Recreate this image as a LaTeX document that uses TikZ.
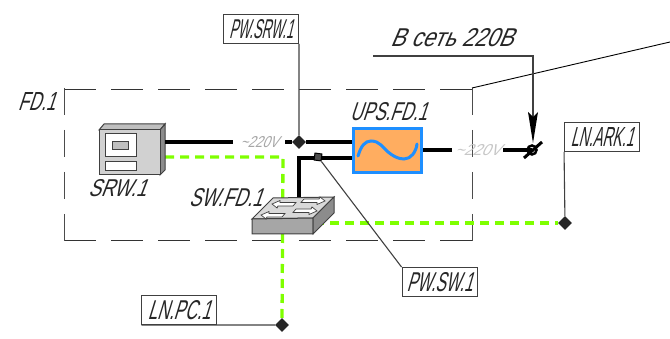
\documentclass[tikz,border=0pt]{standalone}
\usepackage{fontspec}
\setmainfont{Liberation Sans}[FakeStretch=0.6,FakeSlant=0.3]
\usepackage{xcolor}
\usepackage{graphicx}
\usetikzlibrary{calc}
\usetikzlibrary{arrows.meta,positioning,shapes.geometric}
\definecolor{lanGreen}{HTML}{7FFF00}
\definecolor{upsFill}{HTML}{FFAD60}
\definecolor{upsBlue}{HTML}{1E8FFF}
\newcommand{\fitlabel}[3]{\resizebox{#1pt}{#2pt}{#3}}
\tikzset{
  tagbox/.style={draw=black!75,line width=0.9pt,fill=white,inner sep=0pt,minimum width=75pt,minimum height=29pt,text=black!85},
  devlabel/.style={inner sep=0pt,text=black!85},
  joint/.style={diamond,fill=black!85,inner sep=0pt,minimum size=14pt},
  leader/.style={draw=black!75,line width=1.1pt},
  powerline/.style={line width=3.5pt,black},
  lanline/.style={line width=3.3pt,lanGreen,dash pattern=on 9pt off 6pt},
  volt/.style={inner sep=0pt,text=black!35,minimum height=13pt},
  cabhoriz/.style={black!80,line width=0.9pt,dash pattern=on 32pt off 15pt},
  cabvert/.style={black!70,line width=1pt,dash pattern=on 27pt off 15pt},
  swarrow/.style={draw=black!75,line width=0.7pt,fill=white}
}
\begin{document}
\begin{tikzpicture}[x=1pt,y=-1pt]
\useasboundingbox (0,0) rectangle (670,339);

% Cabinet outline
\draw[cabhoriz] (64,89) -- (472,89);
\draw[cabhoriz] (64,240) -- (472,240);
\draw[cabvert] (64,88) -- (64,241);
\draw[cabvert] (472,88) -- (472,241);
\node[devlabel] (fd) at (36.5,102) {\fitlabel{37}{18}{FD.1}};
\coordinate (cabcorner) at (472,88);
\coordinate (farend) at (670,42);
\draw[black,line width=0.9pt] (cabcorner) -- (farend);

% Joints and free ends
\node[joint] (jsrw) at (299,142) {};
\node[joint] (jark) at (565,223) {};
\node[joint] (jpc) at (282,325) {};
\coordinate (srwpower) at (165,142);
\coordinate (srwlan) at (165,157);
\coordinate (swlan) at (283,157);
\coordinate (swright) at (315,223);
\coordinate (swtop) at (299,198);
\coordinate (swbend) at (299,158);
\coordinate (plug) at (532,150);

% Green links
\draw[lanline] (srwlan) -- (swlan) -- (jpc);
\draw[lanline] (swright) -- (jark);

% Device SRW.1
\draw[black!75,line width=1pt,fill=black!25] (99,130) -- (104,124) -- (165,124) -- (160,130) -- cycle;
\draw[black!75,line width=1pt,fill=black!45] (160,130) -- (165,124) -- (165,170) -- (160,175) -- cycle;
\node[draw=black!75,line width=1pt,fill=black!18,minimum width=61pt,minimum height=45pt,inner sep=0pt] (srw) at (129.5,152.5) {};
\draw[black!75,line width=1pt,fill=white] (105,134) rectangle (136,157);
\draw[black!75,line width=1pt,fill=black!25] (112,142) rectangle (128,150);
\draw[black!75,line width=1pt,fill=white] (105,162) rectangle (136,171);
\node[devlabel] (srwname) at (117,188.5) {\fitlabel{58}{17}{SRW.1}};

% Device UPS.FD.1
\node[draw=upsBlue,fill=upsFill,line width=3pt,minimum width=68pt,minimum height=44pt,inner sep=0pt] (ups) at (387.5,150.5) {};
\draw[upsBlue,line width=3pt,line cap=round] (358,156) .. controls (361,146) and (365,141) .. (371,141) .. controls (380,141) and (383,148) .. (388,152) .. controls (393,156) and (398,159) .. (404,159) .. controls (411,159) and (416,152) .. (417,144);
\node[devlabel] (upsname) at (388.5,112) {\fitlabel{77}{18}{UPS.FD.1}};

% Power lines
\node[volt,minimum width=52pt] (v1) at (259,142) {\fitlabel{38}{11}{\textasciitilde220V}};
\node[volt,minimum width=51pt,text=black!22] (v2) at (477.5,150) {\fitlabel{46}{11}{\textasciitilde220V}};
\draw[powerline] (srwpower) -- (v1.west);
\draw[powerline] (v1.east) -- (jsrw) -- (ups.west |- jsrw);
\draw[powerline] (swtop) -- (swbend) -- (ups.west |- swbend);
\draw[powerline] (ups.east |- v2) -- (v2.west);
\draw[powerline] (v2.east) -- (plug);
\draw[line width=2.5pt,black] (plug) circle (4.5pt);
\draw[line width=3pt,black] ($(plug)+(-8,8)$) -- ($(plug)+(10,-8)$);

% Device SW.FD.1
\draw[black!75,line width=1pt,fill=black!15] (252,219) -- (273,198) -- (334,197) -- (313,218) -- cycle;
\draw[black!75,line width=1pt,fill=black!35] (252,219) -- (313,218) -- (313,234) -- (252,234) -- cycle;
\draw[black!75,line width=1pt,fill=black!45] (313,218) -- (334,197) -- (334,213) -- (313,234) -- cycle;
\foreach \ax/\ay/\arot in {272/204/0,261/215/0,325/201/180,317/211/180}
  \draw[swarrow,shift={(\ax,\ay)},rotate=\arot] (0,0) -- (8,-3.5) -- (8,-1.5) -- (24,-1.5) -- (21,2) -- (6,2) -- (5,4) -- cycle;
\node[devlabel] (swname) at (225.5,197.5) {\fitlabel{73}{18}{SW.FD.1}};

% Tags
\node[tagbox] (tagsrw) at (261,29) {\fitlabel{64}{19}{PW.SRW.1}};
\node[tagbox] (tagark) at (602,137) {\fitlabel{63}{19}{LN.ARK.1}};
\node[tagbox] (tagpc) at (179,310) {\fitlabel{63}{19}{LN.PC.1}};
\node[tagbox] (tagsw) at (439.5,282) {\fitlabel{66}{19}{PW.SW.1}};
\node[rotate=-8,draw=black,fill=black!70,line width=1pt,minimum size=7pt,inner sep=0pt] (swplug) at (318,157) {};
\draw[leader] (tagsrw.south east) -- (jsrw);
\draw[leader] (tagark.south west) -- (jark);
\draw[leader] (tagpc.south west) -- (jpc);
\draw[leader] (tagsw.north west) -- (swplug);

% Mains leader
\node[devlabel] (mains) at (451.5,37.5) {\fitlabel{123}{18}{В сеть 220В}};
\coordinate (mainsleft) at (373,56);
\coordinate (mainsbend) at (533,56);
\draw[leader] (mainsleft) -- (mainsbend) -- (533,120);
\fill[black] (528,112) -- (533,117) -- (538,112) -- (533,143) -- cycle;
\end{tikzpicture}
\end{document}
